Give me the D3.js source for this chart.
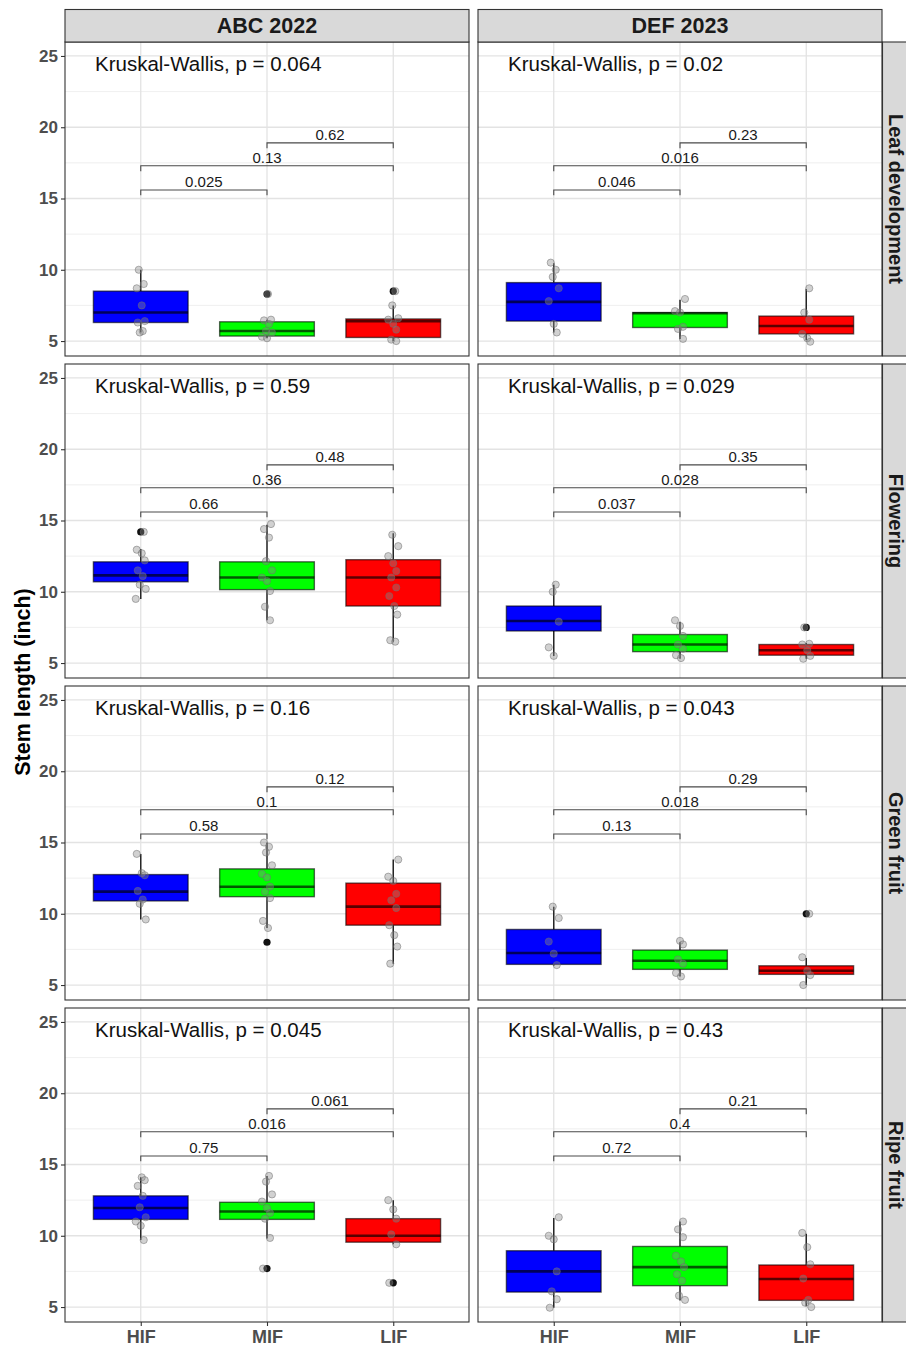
<!DOCTYPE html>
<html><head><meta charset="utf-8">
<script src="https://cdn.jsdelivr.net/npm/d3@7"></script>
<style>body{margin:0;background:#fff;} text{font-family:"Liberation Sans",Arial,Helvetica,sans-serif;}</style>
</head><body><svg id="chart" width="906" height="1348"></svg>
<script>
const years = ["ABC 2022", "DEF 2023"];
const stages = ["Leaf development", "Flowering", "Green fruit", "Ripe fruit"];
const groups = ["HIF", "MIF", "LIF"];
const groupColors = ["#0000FF", "#00FF00", "#FF0000"];
const yTicks = [5, 10, 15, 20, 25];
const yDomain = [3.95, 25.98];
const yAxisTitle = "Stem length (inch)";

// Kruskal-Wallis p values [stage][year]
const kwP = [["0.064", "0.02"], ["0.59", "0.029"], ["0.16", "0.043"], ["0.045", "0.43"]];
// pairwise comparisons: HIF-MIF, HIF-LIF, MIF-LIF
const pairs = [[0, 1], [0, 2], [1, 2]];
const pairLevel = [15.6, 17.3, 18.9];
const pairP = [
  [["0.025", "0.13", "0.62"], ["0.046", "0.016", "0.23"]],
  [["0.66", "0.36", "0.48"], ["0.037", "0.028", "0.35"]],
  [["0.58", "0.1", "0.12"], ["0.13", "0.018", "0.29"]],
  [["0.75", "0.016", "0.061"], ["0.72", "0.4", "0.21"]]
];

// box statistics [stage][year][group]
const q1 = [
  [[6.3, 5.35, 5.25], [6.4, 5.95, 5.5]],
  [[10.7, 10.15, 9.0], [7.25, 5.8, 5.55]],
  [[10.9, 11.2, 9.2], [6.45, 6.1, 5.75]],
  [[11.15, 11.15, 9.55], [6.05, 6.5, 5.47]]
];
const median = [
  [[7.0, 5.7, 6.4], [7.75, 6.95, 6.05]],
  [[11.15, 11.0, 11.0], [7.95, 6.3, 5.9]],
  [[11.55, 11.9, 10.5], [7.25, 6.7, 6.0]],
  [[11.95, 11.7, 10.0], [7.5, 7.8, 6.97]]
];
const q3 = [
  [[8.5, 6.35, 6.55], [9.1, 7.0, 6.75]],
  [[12.1, 12.1, 12.25], [9.0, 7.0, 6.3]],
  [[12.75, 13.15, 12.15], [8.9, 7.45, 6.35]],
  [[12.8, 12.35, 11.2], [8.95, 9.25, 7.95]]
];
const whiskLo = [
  [[5.6, 5.2, 5.0], [5.6, 5.15, 5.05]],
  [[9.5, 8.0, 6.5], [5.5, 5.3, 5.3]],
  [[9.6, 9.0, 6.5], [6.35, 5.6, 5.0]],
  [[9.7, 9.8, 9.4], [4.95, 5.45, 5.05]]
];
const whiskHi = [
  [[10.0, 6.5, 7.5], [10.45, 7.9, 8.65]],
  [[13.0, 14.7, 14.1], [10.5, 7.9, 6.4]],
  [[14.2, 15.0, 13.8], [10.5, 8.0, 6.9]],
  [[14.1, 14.2, 12.5], [11.25, 11.0, 10.15]]
];
const outliers = [
  [[[], [8.3], [8.5]], [[], [], []]],
  [[[14.2], [], []], [[], [], [7.5]]],
  [[[], [8.0], []], [[], [], [10.0]]],
  [[[], [7.7], [6.7]], [[], [], []]]
];
// individual observations (jittered points)
const obs = [
  [
    [[10.0, 9.0, 8.7, 7.5, 6.4, 6.3, 5.7, 5.6], [8.3, 6.5, 6.45, 6.2, 5.7, 5.6, 5.3, 5.2], [8.5, 7.5, 6.6, 6.5, 6.2, 5.8, 5.1, 5.0]],
    [[10.5, 10.0, 9.5, 8.7, 7.8, 6.2, 5.6], [7.95, 7.1, 7.0, 6.0, 5.85, 5.15], [8.7, 7.0, 6.5, 5.5, 5.2, 4.95]]
  ],
  [
    [[14.2, 12.95, 12.7, 12.2, 11.5, 11.1, 10.5, 10.2, 9.5], [14.75, 14.4, 13.8, 12.15, 11.5, 11.0, 10.75, 10.05, 8.95, 8.0], [14.0, 13.2, 12.5, 12.0, 11.45, 11.0, 10.3, 9.7, 9.0, 8.4, 6.6, 6.5]],
    [[10.5, 10.0, 7.9, 6.1, 5.5], [8.0, 7.6, 6.9, 6.3, 6.0, 5.55, 5.35], [7.5, 6.35, 6.3, 5.9, 5.5, 5.3]]
  ],
  [
    [[14.2, 12.85, 12.7, 11.6, 11.0, 10.7, 9.6], [15.0, 14.7, 14.3, 13.4, 12.8, 12.55, 11.9, 11.55, 11.1, 9.5, 9.0], [13.8, 12.6, 12.3, 11.4, 10.95, 10.4, 9.2, 8.5, 7.7, 6.5]],
    [[10.5, 9.7, 8.05, 7.2, 6.4], [8.1, 7.85, 6.8, 6.5, 5.85, 5.6], [10.0, 6.95, 6.0, 5.7, 5.0]]
  ],
  [
    [[14.1, 13.9, 13.5, 12.8, 12.0, 11.3, 11.0, 10.7, 9.7], [14.2, 13.8, 12.9, 12.4, 11.95, 11.6, 11.2, 9.85, 7.7], [12.5, 11.85, 11.2, 10.1, 9.4, 6.7]],
    [[11.3, 10.0, 9.75, 7.5, 6.1, 5.55, 4.95], [11.0, 10.45, 9.9, 8.6, 8.2, 7.8, 7.3, 6.85, 5.8, 5.5], [10.2, 9.2, 8.0, 7.0, 5.5, 5.3, 5.0]]
  ]
];

// ---------- layout ----------
const panelLeft = [65, 478];
const panelW = 404;
const panelTop0 = 42, panelH = 314, rowStep = 322;
const stripTopY = 9.5, stripH = 32.5;
const rightStripX = 882.5, rightStripW = 33;
const jitterPx = [-2, 3, -4, 1, 4, -3, 2, -1, 5, -5, 0, 3];

const svg = d3.select("#chart");
svg.append("rect").attr("width", 906).attr("height", 1348).attr("fill", "#fff");

const x = d3.scalePoint().domain(groups).range([0, panelW]).padding(0.6);
const step = x.step();
const boxW = step * 0.75;
const y = d3.scaleLinear().domain(yDomain).range([panelH, 0]);
const minorTicks = [2.5].concat(yTicks.map(t => t + 2.5)).filter(t => t > yDomain[0] && t < yDomain[1]);

stages.forEach((stage, s) => {
  const top = panelTop0 + s * rowStep;
  years.forEach((year, c) => {
    const g = svg.append("g").attr("transform", `translate(${panelLeft[c]},${top})`);
    g.append("rect").attr("width", panelW).attr("height", panelH).attr("fill", "#fff");
    // grid
    g.selectAll(".minor").data(minorTicks).join("line")
      .attr("x1", 0).attr("x2", panelW).attr("y1", d => y(d)).attr("y2", d => y(d))
      .attr("stroke", "#ebebeb").attr("stroke-width", 0.8);
    g.selectAll(".major").data(yTicks).join("line")
      .attr("x1", 0).attr("x2", panelW).attr("y1", d => y(d)).attr("y2", d => y(d))
      .attr("stroke", "#e3e3e3").attr("stroke-width", 1.3);
    g.selectAll(".vgrid").data(groups).join("line")
      .attr("x1", d => x(d)).attr("x2", d => x(d)).attr("y1", 0).attr("y2", panelH)
      .attr("stroke", "#e3e3e3").attr("stroke-width", 1.3);

    groups.forEach((grp, k) => {
      const cx = x(grp);
      // whiskers
      g.append("line").attr("x1", cx).attr("x2", cx)
        .attr("y1", y(q3[s][c][k])).attr("y2", y(whiskHi[s][c][k]))
        .attr("stroke", "#262626").attr("stroke-width", 1.5);
      g.append("line").attr("x1", cx).attr("x2", cx)
        .attr("y1", y(q1[s][c][k])).attr("y2", y(whiskLo[s][c][k]))
        .attr("stroke", "#262626").attr("stroke-width", 1.5);
      // box
      g.append("rect").attr("x", cx - boxW / 2).attr("width", boxW)
        .attr("y", y(q3[s][c][k])).attr("height", y(q1[s][c][k]) - y(q3[s][c][k]))
        .attr("fill", groupColors[k]).attr("stroke", "#000").attr("stroke-opacity", 0.6).attr("stroke-width", 1.4);
      g.append("line").attr("x1", cx - boxW / 2).attr("x2", cx + boxW / 2)
        .attr("y1", y(median[s][c][k])).attr("y2", y(median[s][c][k]))
        .attr("stroke", "#000").attr("stroke-opacity", 0.65).attr("stroke-width", 2.6);
      // outliers
      g.selectAll(null).data(outliers[s][c][k]).join("circle")
        .attr("cx", cx).attr("cy", d => y(d)).attr("r", 3.6).attr("fill", "#111");
      // jittered observations
      g.selectAll(null).data(obs[s][c][k]).join("circle")
        .attr("cx", (d, i) => cx + jitterPx[(i + k * 3 + c * 5 + s) % jitterPx.length])
        .attr("cy", d => y(d)).attr("r", 3.6)
        .attr("fill", "#8c8c8c").attr("fill-opacity", 0.4)
        .attr("stroke", "#6e6e6e").attr("stroke-opacity", 0.5).attr("stroke-width", 1);
    });

    // comparison brackets
    pairs.forEach((p, j) => {
      const x1 = x(groups[p[0]]), x2 = x(groups[p[1]]);
      const yl = y(pairLevel[j]);
      const tip = y(pairLevel[j] - 0.38) - yl;
      g.append("path")
        .attr("d", `M${x1},${yl + tip}V${yl}H${x2}V${yl + tip}`)
        .attr("fill", "none").attr("stroke", "#4a4a4a").attr("stroke-width", 1.1);
      g.append("text").attr("x", (x1 + x2) / 2).attr("y", yl - 3)
        .attr("text-anchor", "middle").attr("font-size", 15).attr("fill", "#1a1a1a")
        .text(pairP[s][c][j]);
    });

    // Kruskal-Wallis label
    g.append("text").attr("x", 30).attr("y", y(23.95))
      .attr("font-size", 20.5).attr("fill", "#111")
      .text(`Kruskal-Wallis, p = ${kwP[s][c]}`);

    // border
    g.append("rect").attr("width", panelW).attr("height", panelH)
      .attr("fill", "none").attr("stroke", "#333").attr("stroke-width", 1.1);

    // axes
    if (c === 0) {
      const ax = g.append("g").call(d3.axisLeft(y).tickValues(yTicks).tickSize(4).tickPadding(3));
      ax.select(".domain").remove();
      ax.selectAll(".tick line").attr("stroke", "#333").attr("stroke-width", 1.1);
      ax.selectAll(".tick text").attr("font-size", 17).attr("font-weight", "bold")
        .attr("fill", "#4d4d4d").attr("font-family", "Liberation Sans, Arial, sans-serif");
    }
    if (s === stages.length - 1) {
      const ax = g.append("g").attr("transform", `translate(0,${panelH})`)
        .call(d3.axisBottom(x).tickSize(4).tickPadding(4));
      ax.select(".domain").remove();
      ax.selectAll(".tick line").attr("stroke", "#333").attr("stroke-width", 1.1);
      ax.selectAll(".tick text").attr("font-size", 18).attr("font-weight", "bold")
        .attr("fill", "#4d4d4d").attr("font-family", "Liberation Sans, Arial, sans-serif");
    }
  });

  // right strip
  svg.append("rect").attr("x", rightStripX).attr("y", top).attr("width", rightStripW).attr("height", panelH)
    .attr("fill", "#d9d9d9").attr("stroke", "#333").attr("stroke-width", 1.1);
  svg.append("text").attr("transform", `translate(${rightStripX + 6.5},${top + panelH / 2}) rotate(90)`)
    .attr("text-anchor", "middle").attr("font-size", 20).attr("font-weight", "bold").attr("fill", "#1a1a1a")
    .text(stage);
});

// top strips
years.forEach((year, c) => {
  svg.append("rect").attr("x", panelLeft[c]).attr("y", stripTopY).attr("width", panelW).attr("height", stripH)
    .attr("fill", "#d9d9d9").attr("stroke", "#333").attr("stroke-width", 1.1);
  svg.append("text").attr("x", panelLeft[c] + panelW / 2).attr("y", stripTopY + 23.8)
    .attr("text-anchor", "middle").attr("font-size", 21.5).attr("font-weight", "bold").attr("fill", "#1a1a1a")
    .text(year);
});

// y axis title
svg.append("text")
  .attr("transform", `translate(30,${panelTop0 + (rowStep * 3 + panelH) / 2}) rotate(-90)`)
  .attr("text-anchor", "middle").attr("font-size", 21.5).attr("font-weight", "bold").attr("fill", "#000")
  .text(yAxisTitle);
</script></body></html>
